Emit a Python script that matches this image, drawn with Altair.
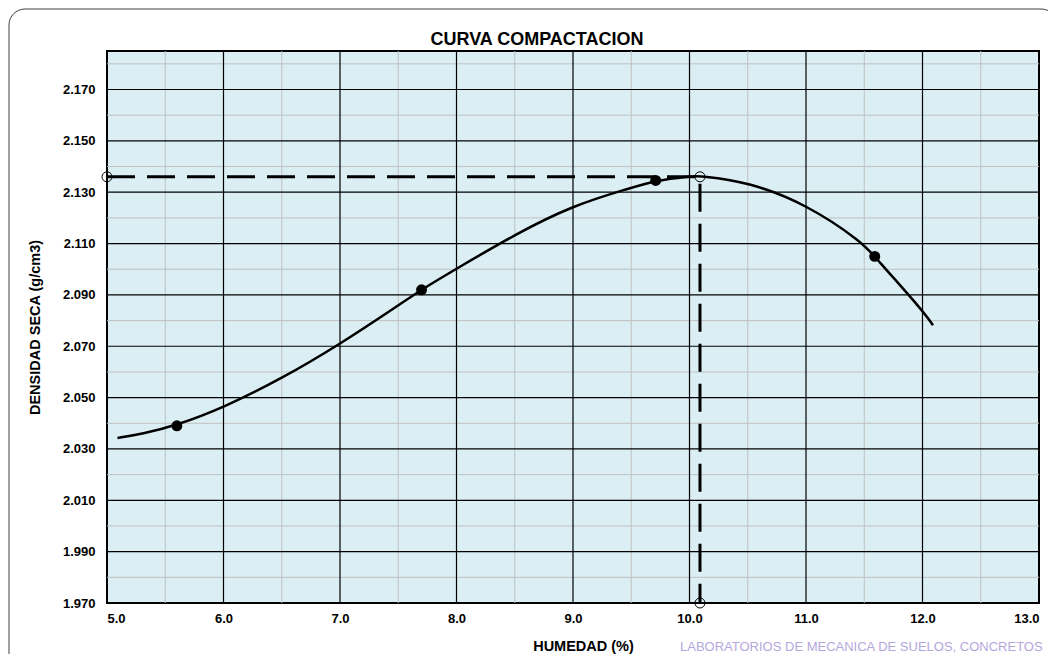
import altair as alt
import pandas as pd

# ---- data ----
curve_x = [5.09, 5.3, 5.59, 6.0, 6.5, 7.0, 7.5, 7.7, 8.0, 8.5, 9.0, 9.5, 9.71,
           10.0, 10.1, 10.5, 11.0, 11.5, 11.59, 12.0, 12.09]
curve_y = [2.0343, 2.0358, 2.0391, 2.0461, 2.0574, 2.0708, 2.0859, 2.0921, 2.1002,
           2.1135, 2.1249, 2.1317, 2.1346, 2.1362, 2.1364, 2.1340, 2.1255,
           2.1100, 2.1048, 2.0840, 2.0782]

pts_x = [5.6, 7.7, 9.71, 11.59]
pts_y = [2.039, 2.092, 2.1346, 2.105]

omc = 10.09
mdd = 2.136

x_ticks = [5.0, 6.0, 7.0, 8.0, 9.0, 10.0, 11.0, 12.0, 13.0]
y_ticks = [1.970, 1.990, 2.010, 2.030, 2.050, 2.070, 2.090, 2.110, 2.130, 2.150, 2.170]
x_major = [6.0, 7.0, 8.0, 9.0, 10.0, 11.0, 12.0]
x_minor = [5.5, 6.5, 7.5, 8.5, 9.5, 10.5, 11.5, 12.5]
y_major = [1.990, 2.010, 2.030, 2.050, 2.070, 2.090, 2.110, 2.130, 2.150, 2.170]
y_minor = [1.980, 2.000, 2.020, 2.040, 2.060, 2.080, 2.100, 2.120, 2.140, 2.160, 2.180]

x_domain = [5.0, 13.0]
y_domain = [1.970, 2.185]

title_text = "CURVA COMPACTACION"
watermark_text = "LABORATORIOS DE MECANICA DE SUELOS, CONCRETOS"

FONT = "Liberation Sans"

# ---- tables ----
curve_df = pd.DataFrame({"x": curve_x, "y": curve_y})
pts_df = pd.DataFrame({"x": pts_x, "y": pts_y})
dash_df = pd.DataFrame({"x": [x_domain[0], omc, omc], "y": [mdd, mdd, y_domain[0]], "o": [0, 1, 2]})
open_df = pd.DataFrame({"x": [x_domain[0], omc, omc], "y": [mdd, mdd, y_domain[0]]})

xscale = alt.Scale(domain=x_domain, nice=False, zero=False)
yscale = alt.Scale(domain=y_domain, nice=False, zero=False)

xaxis = alt.Axis(values=x_ticks, format=".1f", grid=False, ticks=False, domain=False,
                 labelFont=FONT, labelFontSize=13, labelFontWeight="bold", labelColor="black",
                 labelPadding=9, title="HUMEDAD (%)", titleFont=FONT, titleFontSize=14.5,
                 titleFontWeight="bold", titleColor="black", titlePadding=14, titleX=476)
yaxis = alt.Axis(values=y_ticks, format=".3f", grid=False, ticks=False, domain=False,
                 labelFont=FONT, labelFontSize=13, labelFontWeight="bold", labelColor="black",
                 labelPadding=12, title="DENSIDAD SECA (g/cm3)", titleFont=FONT, titleFontSize=14.5,
                 titleFontWeight="bold", titleColor="black", titlePadding=20)


def X(f="x"):
    return alt.X(f, type="quantitative", scale=xscale, axis=xaxis)


def Y(f="y"):
    return alt.Y(f, type="quantitative", scale=yscale, axis=yaxis)


frame = alt.Chart(pd.DataFrame({"a": [0]})).mark_rect(
    fillOpacity=0, stroke="#404040", strokeWidth=1, cornerRadius=16, clip=False
).encode(x=alt.value(-98), x2=alt.value(950), y=alt.value(-42), y2=alt.value(640))

vminor = alt.Chart(pd.DataFrame({"x": x_minor})).mark_rule(color="#c0c0c0", strokeWidth=1).encode(x=X())
hminor = alt.Chart(pd.DataFrame({"y": y_minor})).mark_rule(color="#c0c0c0", strokeWidth=1).encode(y=Y())
vmajor = alt.Chart(pd.DataFrame({"x": x_major})).mark_rule(color="black", strokeWidth=1.2).encode(x=X())
hmajor = alt.Chart(pd.DataFrame({"y": y_major})).mark_rule(color="black", strokeWidth=1.2).encode(y=Y())

curve = alt.Chart(curve_df).mark_line(color="black", strokeWidth=2.5, interpolate="basis").encode(
    x=X(), y=Y())

dash = alt.Chart(dash_df).mark_line(color="black", strokeWidth=3, strokeDash=[28, 12]).encode(
    x=X(), y=Y(), order="o:Q")

points = alt.Chart(pts_df).mark_point(shape="circle", filled=True, color="black", size=120, opacity=1).encode(
    x=X(), y=Y())

open_pts = alt.Chart(open_df).mark_point(shape="circle", filled=False, color="black", size=100,
                                         strokeWidth=1, opacity=1, clip=False).encode(x=X(), y=Y())

title = alt.Chart(pd.DataFrame({"t": [title_text]})).mark_text(
    align="center", baseline="alphabetic", font=FONT, fontSize=18, fontWeight="bold", color="black"
).encode(text="t:N", x=alt.value(430), y=alt.value(-6))

watermark = alt.Chart(pd.DataFrame({"t": [watermark_text]})).mark_text(
    align="left", baseline="alphabetic", font=FONT, fontSize=13, color="#a898d8", opacity=0.85
).encode(text="t:N", x=alt.value(573), y=alt.value(600))

chart = alt.layer(
    frame, vminor, hminor, vmajor, hmajor, dash, curve, points, open_pts, title, watermark
).properties(
    width=932, height=552,
    padding={"left": 99, "top": 43, "right": 9, "bottom": 51},
    autosize=alt.AutoSizeParams(type="none"),
    background="white",
).configure_view(
    fill="#DAEEF3", stroke="black", strokeWidth=2
)

chart.save("out.html", embed_options={"renderer": "svg", "actions": False})
